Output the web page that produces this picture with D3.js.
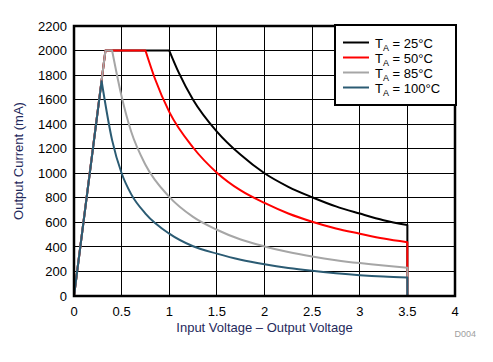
<!DOCTYPE html>
<html><head><meta charset="utf-8">
<script src="https://cdn.jsdelivr.net/npm/d3@7"></script>
<style>body{margin:0;background:#fff}svg{display:block}text{font-family:"Liberation Sans",Arial,sans-serif}</style>
</head><body><svg id="c" width="493" height="362"></svg>
<script>
const xTicks = [0, 0.5, 1, 1.5, 2, 2.5, 3, 3.5, 4];
const xTickLabels = ["0", "0.5", "1", "1.5", "2", "2.5", "3", "3.5", "4"];
const yTicks = [0, 200, 400, 600, 800, 1000, 1200, 1400, 1600, 1800, 2000, 2200];
const seriesNames = ["25°C", "50°C", "85°C", "100°C"];
const seriesColors = ["#000000", "#ff0000", "#a6a6a6", "#2b5b73"];
// curve points: rising edge, flat current limit, falling (power-limited) part, then drop at 3.5 V
const v25 = [0, 0.33, 1.0, 1.1, 1.25, 1.5, 1.75, 2.0, 2.25, 2.5, 2.75, 3.0, 3.25, 3.5, 3.5];
const i25 = [0, 2000, 2000, 1820, 1600, 1340, 1150, 1000, 890, 805, 730, 672, 618, 578, 0];
const v50 = [0, 0.33, 0.75, 0.85, 1.0, 1.25, 1.5, 1.75, 2.0, 2.25, 2.5, 2.75, 3.0, 3.25, 3.5, 3.5];
const i50 = [0, 2000, 2000, 1770, 1500, 1210, 1005, 860, 758, 672, 605, 550, 508, 468, 438, 0];
const v85 = [0, 0.33, 0.4, 0.5, 0.6, 0.75, 1.0, 1.25, 1.5, 1.75, 2.0, 2.25, 2.5, 2.75, 3.0, 3.25, 3.5, 3.5];
const i85 = [0, 2000, 2000, 1625, 1340, 1070, 808, 645, 540, 460, 404, 358, 322, 292, 268, 248, 231, 0];
const v100 = [0, 0.29, 0.4, 0.5, 0.6, 0.75, 1.0, 1.25, 1.5, 1.75, 2.0, 2.25, 2.5, 2.75, 3.0, 3.25, 3.5, 3.5];
const i100 = [0, 1750, 1270, 1000, 830, 672, 508, 405, 345, 295, 258, 228, 205, 186, 170, 158, 150, 0];
const seriesV = [v25, v50, v85, v100];
const seriesI = [i25, i50, i85, i100];
// index where the smooth falling part begins in each series
const fallStart = [2, 2, 2, 1];

const L = 74, R = 455, T = 26, B = 296;
const svg = d3.select("#c");
const x = d3.scaleLinear().domain([0, 4]).range([L, R]);
const y = d3.scaleLinear().domain([0, 2200]).range([B, T]);

// grid
svg.append("g").selectAll("line").data(xTicks).join("line")
  .attr("x1", d => x(d)).attr("x2", d => x(d)).attr("y1", T).attr("y2", B)
  .attr("stroke", "#000").attr("stroke-width", 1).attr("shape-rendering", "crispEdges");
svg.append("g").selectAll("line").data(yTicks).join("line")
  .attr("y1", d => y(d)).attr("y2", d => y(d)).attr("x1", L).attr("x2", R)
  .attr("stroke", "#000").attr("stroke-width", 1).attr("shape-rendering", "crispEdges");

// series
const lineLin = d3.line().x(d => x(d[0])).y(d => y(d[1]));
const lineSmooth = d3.line().x(d => x(d[0])).y(d => y(d[1])).curve(d3.curveMonotoneX);
seriesV.forEach((vs, k) => {
  const pts = vs.map((v, j) => [v, seriesI[k][j]]);
  const s = fallStart[k];
  const n = pts.length;
  const head = pts.slice(0, s + 1);
  const fall = pts.slice(s, n - 1);
  const tail = pts.slice(n - 2);
  const d = lineLin(head) + lineSmooth(fall).replace(/^M[^CLZ]*/, "") + lineLin(tail).replace(/^M[^L]*/, "");
  svg.append("path").attr("d", d)
    .attr("fill", "none").attr("stroke", seriesColors[k]).attr("stroke-width", 2)
    .attr("stroke-linejoin", "round");
});

// frame
svg.append("rect").attr("x", L).attr("y", T).attr("width", R - L).attr("height", B - T)
  .attr("fill", "none").attr("stroke", "#000").attr("stroke-width", 2.5);

// axes labels
svg.append("g").selectAll("text").data(yTicks).join("text")
  .attr("x", 67).attr("y", d => y(d)).attr("dy", "0.36em").attr("text-anchor", "end")
  .attr("font-size", 13).attr("fill", "#000").text(d => d);
svg.append("g").selectAll("text").data(xTicks).join("text")
  .attr("x", d => x(d)).attr("y", 316).attr("text-anchor", "middle")
  .attr("font-size", 13).attr("fill", "#000").text((d, i) => xTickLabels[i]);

svg.append("text").attr("x", (L + R) / 2).attr("y", 332).attr("text-anchor", "middle")
  .attr("font-size", 13).attr("fill", "#1f2a5c").text("Input Voltage – Output Voltage");
svg.append("text").attr("transform", `translate(23,${(T + B) / 2}) rotate(-90)`)
  .attr("text-anchor", "middle").attr("font-size", 13).attr("fill", "#1f2a5c")
  .text("Output Current (mA)");
svg.append("text").attr("x", 476).attr("y", 337).attr("text-anchor", "end")
  .attr("font-size", 9).attr("fill", "#a0a0a0").text("D004");

// legend
const lg = svg.append("g");
lg.append("rect").attr("x", 335).attr("y", 25).attr("width", 121).attr("height", 80)
  .attr("fill", "#fff").attr("stroke", "#000").attr("stroke-width", 2);
seriesNames.forEach((n, k) => {
  const yy = 42.5 + k * 15;
  lg.append("line").attr("x1", 343).attr("x2", 369).attr("y1", yy).attr("y2", yy)
    .attr("stroke", seriesColors[k]).attr("stroke-width", 2);
  const t = lg.append("text").attr("x", 375).attr("y", yy + 5).attr("font-size", 13).attr("fill", "#000");
  t.append("tspan").text("T");
  t.append("tspan").attr("font-size", 9).attr("dy", 3).text("A");
  t.append("tspan").attr("dy", -3).text(" = " + n);
});
</script></body></html>
